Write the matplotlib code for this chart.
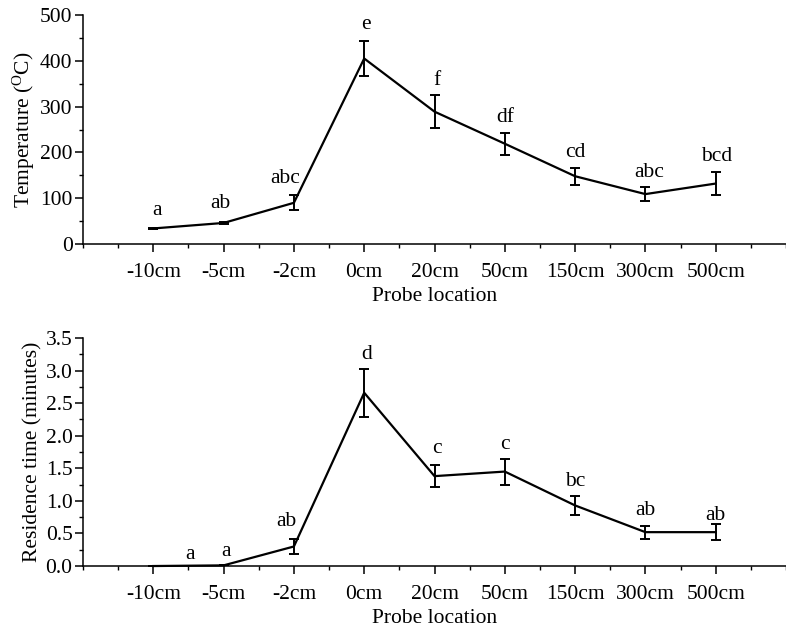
import matplotlib
matplotlib.use('Agg')
import matplotlib.pyplot as plt
from matplotlib.ticker import MultipleLocator, FormatStrFormatter

plt.rcParams['font.family'] = ['Liberation Serif', 'DejaVu Serif']
plt.rcParams['mathtext.fontset'] = 'custom'
plt.rcParams['mathtext.rm'] = 'Liberation Serif'

locations = ['-10cm', '-5cm', '-2cm', '0cm', '20cm', '50cm', '150cm', '300cm', '500cm']

temp_mean = [34, 46, 90, 405, 289, 219, 148, 109, 132]
temp_err = [2, 3, 16, 38, 36, 24, 19, 15, 26]
temp_letters = ['a', 'ab', 'abc', 'e', 'f', 'df', 'cd', 'abc', 'bcd']
temp_letter_x = [1.05, 1.95, 2.88, 4.03, 5.04, 6.0, 7.0, 8.05, 9.02]
temp_letter_y = [74, 89, 144, 480, 358, 277, 199, 157, 190]

res_mean = [0.0, 0.01, 0.30, 2.66, 1.38, 1.45, 0.93, 0.52, 0.52]
res_err = [0.0, 0.0, 0.12, 0.37, 0.17, 0.20, 0.15, 0.10, 0.12]
res_letters = ['a', 'a', 'ab', 'd', 'c', 'c', 'bc', 'ab', 'ab']
res_letter_x = [1.52, 2.03, 2.9, 4.04, 5.03, 6.0, 7.0, 8.0, 8.99]
res_letter_y = [0.17, 0.22, 0.68, 3.24, 1.81, 1.86, 1.29, 0.85, 0.78]

xpos = list(range(1, len(locations) + 1))

fig = plt.figure(figsize=(7.86, 6.33), dpi=100)
ax1 = fig.add_axes([0.1056, 0.6145, 0.8944, 0.3618])
ax2 = fig.add_axes([0.1056, 0.1058, 0.8944, 0.3602])

FS = 15.5


def style(ax, ymax, ymajor, yminor):
    ax.set_xlim(0, 10)
    ax.set_ylim(0, ymax)
    ax.xaxis.set_minor_locator(MultipleLocator(0.5))
    ax.set_xticks(xpos)
    ax.set_xticklabels(locations)
    ax.yaxis.set_major_locator(MultipleLocator(ymajor))
    ax.yaxis.set_minor_locator(MultipleLocator(yminor))
    ax.spines['top'].set_visible(False)
    ax.spines['right'].set_visible(False)
    for s in ['left', 'bottom']:
        ax.spines[s].set_linewidth(1.1)
    ax.tick_params(which='major', direction='out', length=5.5, width=1.1, labelsize=FS, pad=2)
    ax.tick_params(which='minor', direction='out', length=3, width=1.0)
    ax.tick_params(axis='x', pad=8)
    ax.set_xlabel('Probe location', fontsize=FS, labelpad=4)


ax1.errorbar(xpos, temp_mean, yerr=temp_err, color='black', lw=1.6,
             capsize=3.6, capthick=1.4, elinewidth=1.4, clip_on=False)
for x, y, t in zip(temp_letter_x, temp_letter_y, temp_letters):
    ax1.text(x, y, t, ha='center', va='center', fontsize=FS)
style(ax1, 500, 100, 50)
ax1.set_ylabel(r'Temperature ($\mathregular{^{O}}$C)', fontsize=FS, labelpad=2)

ax2.errorbar(xpos, res_mean, yerr=res_err, color='black', lw=1.6,
             capsize=3.6, capthick=1.4, elinewidth=1.4, clip_on=False)
for x, y, t in zip(res_letter_x, res_letter_y, res_letters):
    ax2.text(x, y, t, ha='center', va='center', fontsize=FS)
style(ax2, 3.5, 0.5, 0.25)
ax2.yaxis.set_major_formatter(FormatStrFormatter('%.1f'))
ax2.set_ylabel('Residence time (minutes)', fontsize=FS, labelpad=2)

fig.savefig('out.png', dpi=100)
